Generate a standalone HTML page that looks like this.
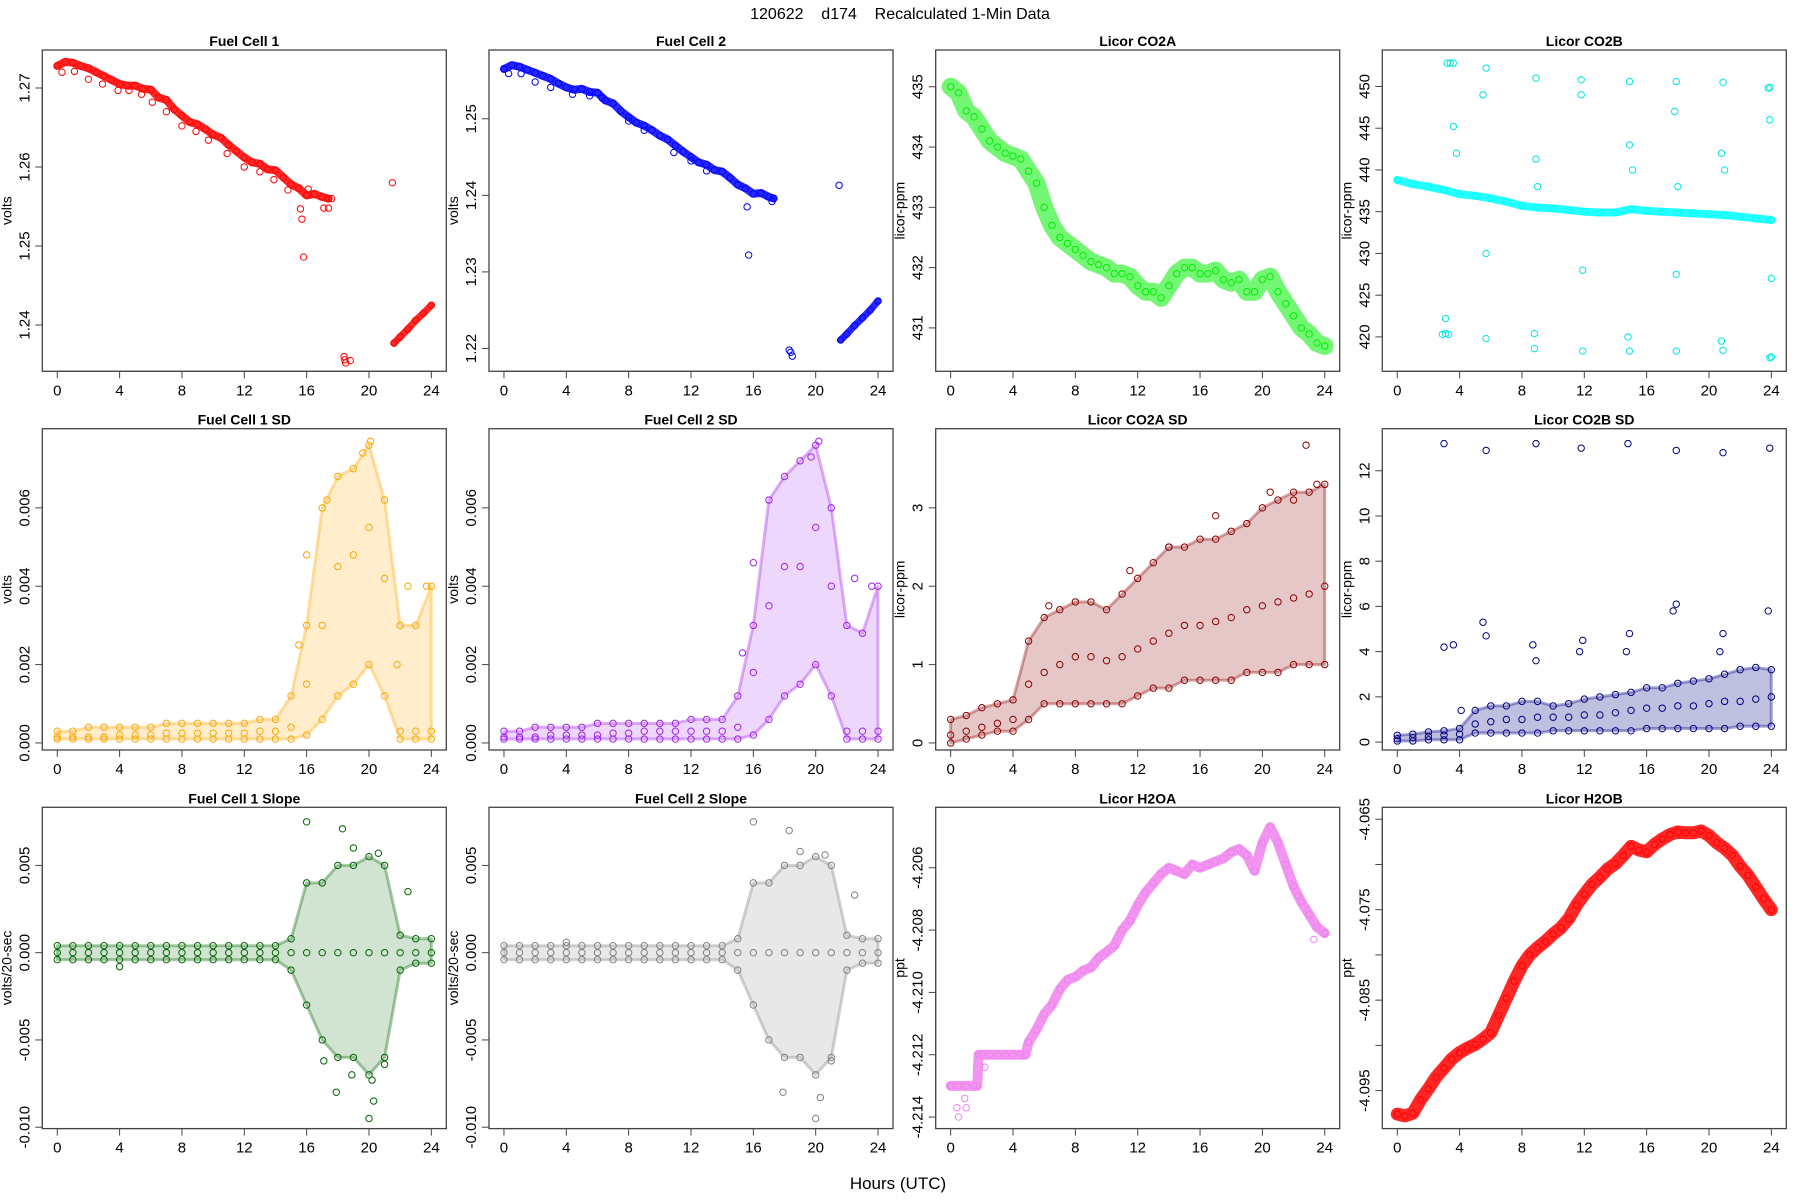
<!DOCTYPE html>
<html><head><meta charset="utf-8"><style>
html,body{margin:0;padding:0;background:#fff;}
svg{display:block;font-family:"Liberation Sans",Arial,sans-serif;}
</style></head><body>
<svg id="chart" width="1800" height="1200" viewBox="0 0 1800 1200" xmlns="http://www.w3.org/2000/svg">
<text x="900" y="19" text-anchor="middle" font-size="16" xml:space="preserve" style="white-space:pre">120622    d174    Recalculated 1-Min Data</text>
<text x="898" y="1189" text-anchor="middle" font-size="17">Hours (UTC)</text>
</svg>
<script>
// ---------- data ----------
const hrs25 = [0,1,2,3,4,5,6,7,8,9,10,11,12,13,14,15,16,17,18,19,20,21,22,23,24];
const xTicks = [0,4,8,12,16,20,24];

const fc1T = [0,0.5,1,1.5,2,2.5,3,3.5,4,4.5,5,5.5,6,6.5,7,7.5,8,8.5,9,9.5,10,10.5,11,11.5,12,12.5,13,13.5,14,14.5,15,15.5,16,16.5,17,17.4];
const fc1V = [1.2728,1.2733,1.2732,1.2728,1.2725,1.2720,1.2715,1.2710,1.2705,1.2703,1.2703,1.2699,1.2698,1.2688,1.2685,1.2673,1.2665,1.2657,1.2654,1.2648,1.2641,1.2637,1.2628,1.2620,1.2612,1.2606,1.2604,1.2597,1.2596,1.2587,1.2578,1.2573,1.2564,1.2566,1.2562,1.2560];
const fc1T2 = [21.6,22,22.5,23,23.5,24];
const fc1V2 = [1.2377,1.2385,1.2395,1.2406,1.2415,1.2425];
const fc1OutX = [0.3,1.1,2,2.9,3.9,4.6,5.4,6.1,7,8,8.9,9.7,10.9,12,13,13.9,14.8,15.6,15.7,15.8,17.1,17.4,18.4,18.45,18.5,18.8,21.5,17.6,16.1];
const fc1OutY = [1.2720,1.2721,1.2711,1.2705,1.2697,1.2697,1.2692,1.2682,1.2670,1.2652,1.2645,1.2634,1.2617,1.2600,1.2594,1.2584,1.2571,1.2547,1.2534,1.2486,1.2548,1.2548,1.2360,1.2356,1.2352,1.2355,1.2580,1.2560,1.2572];

const fc2T = [0,0.5,1,1.5,2,2.5,3,3.5,4,4.5,5,5.5,6,6.5,7,7.5,8,8.5,9,9.5,10,10.5,11,11.5,12,12.5,13,13.5,14,14.5,15,15.5,16,16.5,17,17.3];
const fc2V = [1.2565,1.2570,1.2568,1.2564,1.2560,1.2556,1.2552,1.2546,1.2541,1.2538,1.2539,1.2535,1.2534,1.2524,1.2520,1.2510,1.2502,1.2495,1.2491,1.2485,1.2478,1.2473,1.2465,1.2457,1.2450,1.2443,1.2440,1.2433,1.2431,1.2423,1.2414,1.2409,1.2402,1.2403,1.2398,1.2396];
const fc2T2 = [21.6,22,22.5,23,23.5,24];
const fc2V2 = [1.2211,1.2219,1.2230,1.2240,1.2250,1.2262];
const fc2OutX = [0.3,1.1,2,3,4.4,5.5,6.3,8,9,10.9,12,13,15.6,15.7,17.2,18.3,18.4,18.5,21.5];
const fc2OutY = [1.2559,1.2559,1.2548,1.2541,1.2532,1.2530,1.2527,1.2497,1.2485,1.2456,1.2445,1.2432,1.2385,1.2322,1.2392,1.2198,1.2195,1.2190,1.2413];

const co2aT = [0,0.5,1,1.5,2,2.5,3,3.5,4,4.5,5,5.5,6,6.5,7,7.5,8,8.5,9,9.5,10,10.5,11,11.5,12,12.5,13,13.5,14,14.5,15,15.5,16,16.5,17,17.5,18,18.5,19,19.5,20,20.5,21,21.5,22,22.5,23,23.5,24];
const co2aV = [435.0,434.9,434.6,434.5,434.3,434.1,434.0,433.9,433.85,433.8,433.6,433.4,433.0,432.7,432.5,432.4,432.3,432.2,432.1,432.05,432.0,431.9,431.9,431.85,431.7,431.6,431.6,431.5,431.7,431.9,432.0,432.0,431.9,431.9,431.95,431.8,431.75,431.8,431.6,431.6,431.8,431.85,431.6,431.4,431.2,431.0,430.9,430.75,430.7];

const co2bT = [0,1,2,3,4,5,6,7,8,9,10,11,12,13,14,15,16,17,18,19,20,21,22,23,24];
const co2bV = [438.8,438.3,438.0,437.6,437.1,436.9,436.6,436.2,435.7,435.5,435.4,435.2,435.0,434.9,434.9,435.3,435.1,435.0,434.9,434.8,434.7,434.6,434.4,434.2,434.0];
const co2bOutX = [3.2,3.4,3.6,5.7,8.9,11.8,14.9,17.9,20.9,23.8,23.9, 2.9,3.1,3.3,5.7,8.8,11.9,14.9,17.9,20.9,23.9,24.0, 3.1,3.6,3.8,5.5,5.7,8.9,9.0,8.8,11.8,11.9,14.9,15.1,14.8,17.8,18.0,17.9,20.8,21.0,20.8,23.9,24.0];
const co2bOutY = [452.8,452.8,452.8,452.2,451.0,450.8,450.6,450.6,450.5,449.8,449.9, 420.3,420.4,420.3,419.8,418.6,418.3,418.3,418.3,418.4,417.5,417.6, 422.2,445.2,442.0,449.0,430.0,441.3,438.0,420.4,449.0,428.0,443.0,440.0,420.0,447.0,438.0,427.5,442.0,440.0,419.5,446.0,427.0];

const fc1sdLo  = [0.0001,0.0001,0.0001,0.0001,0.0001,0.0001,0.0001,0.0001,0.0001,0.0001,0.0001,0.0001,0.0001,0.0001,0.0001,0.0001,0.0002,0.0006,0.0012,0.0015,0.0020,0.0012,0.0001,0.0001,0.0001];
const fc1sdMid = [0.00015,0.00015,0.00015,0.00015,0.0002,0.0002,0.0002,0.00025,0.00025,0.00025,0.00025,0.00025,0.00025,0.0003,0.0003,0.0004,0.0015,0.0030,0.0045,0.0048,0.0055,0.0042,0.0003,0.0003,0.0003];
const fc1sdHi  = [0.0003,0.0003,0.0004,0.0004,0.0004,0.0004,0.0004,0.0005,0.0005,0.0005,0.0005,0.0005,0.0005,0.0006,0.0006,0.0012,0.0030,0.0060,0.0068,0.0070,0.0076,0.0062,0.0030,0.0030,0.0040];
const fc1sdOutX = [16,15.5,22.5,21.8,23.7,20.1,19.6,17.3];
const fc1sdOutY = [0.0048,0.0025,0.0040,0.0020,0.0040,0.0077,0.0074,0.0062];

const fc2sdLo  = [0.0001,0.0001,0.0001,0.0001,0.0001,0.0001,0.0001,0.0001,0.0001,0.0001,0.0001,0.0001,0.0001,0.0001,0.0001,0.0001,0.0002,0.0006,0.0012,0.0015,0.0020,0.0012,0.0001,0.0001,0.0001];
const fc2sdMid = [0.00015,0.00015,0.00015,0.0002,0.0002,0.0002,0.0002,0.00025,0.00025,0.0003,0.0003,0.0003,0.0003,0.0003,0.0003,0.0004,0.0018,0.0035,0.0045,0.0045,0.0055,0.0040,0.0003,0.0003,0.0003];
const fc2sdHi  = [0.0003,0.0003,0.0004,0.0004,0.0004,0.0004,0.0005,0.0005,0.0005,0.0005,0.0005,0.0005,0.0006,0.0006,0.0006,0.0012,0.0030,0.0062,0.0068,0.0072,0.0076,0.0060,0.0030,0.0028,0.0040];
const fc2sdOutX = [16,15.3,22.5,23.6,20.2,19.7];
const fc2sdOutY = [0.0046,0.0023,0.0042,0.0040,0.0077,0.0073];

const co2asdLo  = [0,0.05,0.1,0.15,0.15,0.3,0.5,0.5,0.5,0.5,0.5,0.5,0.6,0.7,0.7,0.8,0.8,0.8,0.8,0.9,0.9,0.9,1.0,1.0,1.0];
const co2asdMid = [0.1,0.15,0.2,0.25,0.3,0.75,0.9,1.0,1.1,1.1,1.05,1.1,1.2,1.3,1.4,1.5,1.5,1.55,1.6,1.7,1.75,1.8,1.85,1.9,2.0];
const co2asdHi  = [0.3,0.35,0.45,0.5,0.55,1.3,1.6,1.7,1.8,1.8,1.7,1.9,2.1,2.3,2.5,2.5,2.6,2.6,2.7,2.8,3.0,3.1,3.2,3.2,3.3];
const co2asdOutX = [22.8,20.5,22,11.5,17,23.5,14,6.3];
const co2asdOutY = [3.8,3.2,3.1,2.2,2.9,3.3,2.5,1.75];

const co2bsdLo  = [0.05,0.05,0.1,0.1,0.1,0.4,0.4,0.4,0.4,0.4,0.5,0.5,0.5,0.5,0.5,0.5,0.6,0.6,0.6,0.6,0.6,0.6,0.7,0.7,0.7];
const co2bsdMid = [0.15,0.2,0.25,0.3,0.35,0.8,0.9,1.0,1.0,1.1,1.1,1.1,1.2,1.2,1.3,1.4,1.5,1.5,1.6,1.6,1.7,1.8,1.8,1.9,2.0];
const co2bsdHi  = [0.3,0.35,0.45,0.5,0.6,1.4,1.6,1.6,1.8,1.8,1.6,1.7,1.9,2.0,2.1,2.2,2.4,2.4,2.6,2.7,2.8,3.0,3.2,3.3,3.2];
const co2bsdOutX = [3,5.7,8.9,11.8,14.8,17.9,20.9,23.9, 3,3.6,5.5,5.7,8.7,8.9,11.7,11.9,14.7,14.9,17.7,17.9,20.7,20.9,23.8,4.1];
const co2bsdOutY = [13.2,12.9,13.2,13.0,13.2,12.9,12.8,13.0, 4.2,4.3,5.3,4.7,4.3,3.6,4.0,4.5,4.0,4.8,5.8,6.1,4.0,4.8,5.8,1.4];

const sl1Lo  = [-0.0004,-0.0004,-0.0004,-0.0004,-0.0004,-0.0004,-0.0004,-0.0004,-0.0004,-0.0004,-0.0004,-0.0004,-0.0004,-0.0004,-0.0004,-0.0010,-0.0030,-0.0050,-0.0060,-0.0060,-0.0070,-0.0060,-0.0010,-0.0006,-0.0006];
const sl1Mid = [0,0,0,0,0,0,0,0,0,0,0,0,0,0,0,0,0,0,0,0,0,0,0,0,0];
const sl1Hi  = [0.0004,0.0004,0.0004,0.0004,0.0004,0.0004,0.0004,0.0004,0.0004,0.0004,0.0004,0.0004,0.0004,0.0004,0.0004,0.0008,0.0040,0.0040,0.0050,0.0050,0.0055,0.0050,0.0010,0.0008,0.0008];
const sl1OutX = [16,18.3,20,17.9,20.2,20.3,21,19,4,22.5,20.6,18.9,17.1];
const sl1OutY = [0.0075,0.0071,-0.0095,-0.0080,-0.0073,-0.0085,-0.0064,0.0060,-0.0008,0.0035,0.0057,-0.0070,-0.0062];

const sl2Lo  = [-0.0004,-0.0004,-0.0004,-0.0004,-0.0004,-0.0004,-0.0004,-0.0004,-0.0004,-0.0004,-0.0004,-0.0004,-0.0004,-0.0004,-0.0004,-0.0010,-0.0030,-0.0050,-0.0060,-0.0060,-0.0070,-0.0060,-0.0010,-0.0006,-0.0006];
const sl2Mid = [0,0,0,0,0,0,0,0,0,0,0,0,0,0,0,0,0,0,0,0,0,0,0,0,0];
const sl2Hi  = [0.0004,0.0004,0.0004,0.0004,0.0004,0.0004,0.0004,0.0004,0.0004,0.0004,0.0004,0.0004,0.0004,0.0004,0.0004,0.0008,0.0040,0.0040,0.0050,0.0050,0.0055,0.0050,0.0010,0.0008,0.0008];
const sl2OutX = [16,18.3,20,17.9,20.3,19,4,20.6,22.5,21];
const sl2OutY = [0.0075,0.0070,-0.0095,-0.0080,-0.0083,0.0058,0.0006,0.0056,0.0033,-0.0062];

const h2oaT = [0,0.5,1,1.5,1.7,1.8,2,2.5,3,3.5,4,4.5,4.8,5,5.5,6,6.5,7,7.5,8,8.5,9,9.5,10,10.5,11,11.5,12,12.5,13,13.5,14,14.5,15,15.5,16,16.5,17,17.5,18,18.5,19,19.5,20,20.5,21,21.5,22,22.5,23,23.5,24];
const h2oaV = [-4.2130,-4.2130,-4.2130,-4.2130,-4.2130,-4.2120,-4.2120,-4.2120,-4.2120,-4.2120,-4.2120,-4.2120,-4.2120,-4.2116,-4.2112,-4.2107,-4.2104,-4.2099,-4.2096,-4.2095,-4.2093,-4.2092,-4.2089,-4.2087,-4.2085,-4.2080,-4.2077,-4.2072,-4.2068,-4.2065,-4.2062,-4.2060,-4.2061,-4.2062,-4.2059,-4.2060,-4.2059,-4.2058,-4.2057,-4.2055,-4.2054,-4.2056,-4.2061,-4.2052,-4.2047,-4.2052,-4.2059,-4.2066,-4.2071,-4.2075,-4.2079,-4.2081];
const h2oaOutX = [0.4,0.5,0.9,1.0,2.2,22.3,23.3];
const h2oaOutY = [-4.2137,-4.2140,-4.2134,-4.2137,-4.2124,-4.2069,-4.2083];

const h2obT = [0,0.5,1,1.5,2,2.5,3,3.5,4,4.5,5,5.5,6,6.5,7,7.5,8,8.5,9,9.5,10,10.5,11,11.5,12,12.5,13,13.5,14,14.5,15,15.5,16,16.5,17,17.5,18,18.5,19,19.5,20,20.5,21,21.5,22,22.5,23,23.5,24];
const h2obV = [-4.0976,-4.0978,-4.0975,-4.0960,-4.0948,-4.0935,-4.0925,-4.0915,-4.0908,-4.0903,-4.0899,-4.0893,-4.0886,-4.0867,-4.0848,-4.0829,-4.0812,-4.0800,-4.0792,-4.0785,-4.0777,-4.0770,-4.0760,-4.0745,-4.0733,-4.0722,-4.0714,-4.0705,-4.0699,-4.0690,-4.0680,-4.0684,-4.0686,-4.0678,-4.0672,-4.0667,-4.0664,-4.0665,-4.0665,-4.0663,-4.0668,-4.0676,-4.0682,-4.0690,-4.0702,-4.0712,-4.0725,-4.0738,-4.0750];

// tick values / labels
const yt1 = [1.24,1.25,1.26,1.27], yl1 = ["1.24","1.25","1.26","1.27"];
const yt2 = [1.22,1.23,1.24,1.25], yl2 = ["1.22","1.23","1.24","1.25"];
const yt3 = [431,432,433,434,435], yl3 = ["431","432","433","434","435"];
const yt4 = [420,425,430,435,440,445,450], yl4 = ["420","425","430","435","440","445","450"];
const yt5 = [0,0.002,0.004,0.006], yl5 = ["0.000","0.002","0.004","0.006"];
const yt7 = [0,1,2,3], yl7 = ["0","1","2","3"];
const yt8 = [0,2,4,6,8,10,12], yl8 = ["0","2","4","6","8","10","12"];
const yt9 = [-0.010,-0.005,0,0.005], yl9 = ["-0.010","-0.005","0.000","0.005"];
const yt11 = [-4.214,-4.212,-4.210,-4.208,-4.206], yl11 = ["-4.214","-4.212","-4.210","-4.208","-4.206"];
const yt12 = [-4.095,-4.090,-4.085,-4.080,-4.075,-4.070,-4.065], yl12 = ["-4.095","","-4.085","","-4.075","","-4.065"];

// ---------- drawing ----------
const NS = "http://www.w3.org/2000/svg";
const svg = document.getElementById("chart");
const colL = [42.3, 489, 935.7, 1382.3], PW = 404;
const rowT = [50, 428.7, 807.3], PH = 321.3;
const XMIN = -0.96, XMAX = 24.96;

function mk(tag, attrs, parent){
  const e = document.createElementNS(NS, tag);
  for (const k in attrs) e.setAttribute(k, attrs[k]);
  (parent||svg).appendChild(e);
  return e;
}

function panel(col,row,title,ylab,ylim,yt,yl,slug){
  const L=colL[col], T=rowT[row];
  const g = mk("g",{});
  
  
  const sx = v => L + (v-XMIN)/(XMAX-XMIN)*PW;
  const sy = v => T + PH - (v-ylim[0])/(ylim[1]-ylim[0])*PH;
  const clip = mk("clipPath",{id:"clip-"+slug},g);
  mk("rect",{x:L,y:T,width:PW,height:PH},clip);
  const plot = mk("g",{"clip-path":"url(#clip-"+slug+")"},g);
  
  
  const fr = mk("rect",{x:L,y:T,width:PW,height:PH,fill:"none",stroke:"#444","stroke-width":1.3},g);
  
  
  const tt = mk("text",{x:L+PW/2,y:T-4,"text-anchor":"middle","font-size":14,"font-weight":"bold"},g);
  tt.textContent = title;
  
  
  const yx = L-31, ym = T+PH/2;
  const ylt = mk("text",{x:yx,y:ym,"text-anchor":"middle","font-size":14,transform:"rotate(-90 "+yx+" "+ym+")"},g);
  ylt.textContent = ylab;
  
  
  const xa = mk("g",{},g);
  
  
  const B = T+PH;
  mk("line",{x1:sx(xTicks[0]),x2:sx(xTicks[xTicks.length-1]),y1:B,y2:B,stroke:"#444","stroke-width":1},xa);
  xTicks.forEach(v=>{
    mk("line",{x1:sx(v),x2:sx(v),y1:B,y2:B+7,stroke:"#444","stroke-width":1},xa);
    const t = mk("text",{x:sx(v),y:B+24,"text-anchor":"middle","font-size":15},xa);
    t.textContent = String(v);
    
    
  });
  const ya = mk("g",{},g);
  
  
  mk("line",{x1:L,x2:L,y1:sy(yt[0]),y2:sy(yt[yt.length-1]),stroke:"#444","stroke-width":1},ya);
  yt.forEach((v,i)=>{
    mk("line",{x1:L-7,x2:L,y1:sy(v),y2:sy(v),stroke:"#444","stroke-width":1},ya);
    if (yl[i]){
      const tx=L-13, ty=sy(v);
      const t = mk("text",{x:tx,y:ty,"text-anchor":"middle","font-size":15,transform:"rotate(-90 "+tx+" "+ty+")"},ya);
      t.textContent = yl[i];
      
      
    }
  });
  return {sx,sy,plot};
}

function circles(P,xs,ys,color,r){
  xs.forEach((x,i)=>{
    const c = mk("circle",{cx:P.sx(x),cy:P.sy(ys[i]),r:r||3.2,fill:"none",stroke:color,"stroke-width":1},P.plot);
    
    
  });
}
function band(P,xs,ys,color,w,op){
  const pts = xs.map((x,i)=>P.sx(x).toFixed(1)+","+P.sy(ys[i]).toFixed(1)).join(" ");
  const pl = mk("polyline",{points:pts,fill:"none",stroke:color,"stroke-width":w,"stroke-linejoin":"round","stroke-linecap":"round","stroke-opacity":op||0.85},P.plot);
  
  
  circles(P,xs,ys,color);
}
function spread(P,xs,lo,mid,hi,color,op){
  let d = xs.map((x,i)=>P.sx(x).toFixed(1)+","+P.sy(hi[i]).toFixed(1));
  for (let i=xs.length-1;i>=0;i--) d.push(P.sx(xs[i]).toFixed(1)+","+P.sy(lo[i]).toFixed(1));
  const pg = mk("polygon",{points:d.join(" "),fill:color,"fill-opacity":op,stroke:color,"stroke-opacity":0.35,"stroke-width":3,"stroke-linejoin":"round"},P.plot);
  
  
  circles(P,xs,lo,color); circles(P,xs,mid,color); circles(P,xs,hi,color);
}

let P;
P = panel(0,0,"Fuel Cell 1","volts",[1.23414,1.27481],yt1,yl1,"fuel-cell-1");
band(P,fc1T,fc1V,"#ff0000",8); band(P,fc1T2,fc1V2,"#ff0000",7); circles(P,fc1OutX,fc1OutY,"#ff0000");
P = panel(1,0,"Fuel Cell 2","volts",[1.21702,1.25898],yt2,yl2,"fuel-cell-2");
band(P,fc2T,fc2V,"#0000ff",8); band(P,fc2T2,fc2V2,"#0000ff",7); circles(P,fc2OutX,fc2OutY,"#0000ff");
P = panel(2,0,"Licor CO2A","licor-ppm",[430.28,435.61],yt3,yl3,"licor-co2a");
band(P,co2aT,co2aV,"#00ee00",18,0.55);
P = panel(3,0,"Licor CO2B","licor-ppm",[415.88,454.37],yt4,yl4,"licor-co2b");
band(P,co2bT,co2bV,"#00ffff",8); circles(P,co2bOutX,co2bOutY,"#00e5e5");

P = panel(0,1,"Fuel Cell 1 SD","volts",[-0.00018,0.00802],yt5,yl5,"fuel-cell-1-sd");
spread(P,hrs25,fc1sdLo,fc1sdMid,fc1sdHi,"#ffa500",0.2); circles(P,fc1sdOutX,fc1sdOutY,"#ffa500");
P = panel(1,1,"Fuel Cell 2 SD","volts",[-0.00018,0.00802],yt5,yl5,"fuel-cell-2-sd");
spread(P,hrs25,fc2sdLo,fc2sdMid,fc2sdHi,"#a020f0",0.18); circles(P,fc2sdOutX,fc2sdOutY,"#a020f0");
P = panel(2,1,"Licor CO2A SD","licor-ppm",[-0.09,4.01],yt7,yl7,"licor-co2a-sd");
spread(P,hrs25,co2asdLo,co2asdMid,co2asdHi,"#8b0000",0.22); circles(P,co2asdOutX,co2asdOutY,"#8b0000");
P = panel(3,1,"Licor CO2B SD","licor-ppm",[-0.35,13.86],yt8,yl8,"licor-co2b-sd");
spread(P,hrs25,co2bsdLo,co2bsdMid,co2bsdHi,"#000080",0.25); circles(P,co2bsdOutX,co2bsdOutY,"#000080");

P = panel(0,2,"Fuel Cell 1 Slope","volts/20-sec",[-0.01008,0.00833],yt9,yl9,"fuel-cell-1-slope");
spread(P,hrs25,sl1Lo,sl1Mid,sl1Hi,"#006400",0.18); circles(P,sl1OutX,sl1OutY,"#006400");
P = panel(1,2,"Fuel Cell 2 Slope","volts/20-sec",[-0.01008,0.00833],yt9,yl9,"fuel-cell-2-slope");
spread(P,hrs25,sl2Lo,sl2Mid,sl2Hi,"#808080",0.18); circles(P,sl2OutX,sl2OutY,"#808080");
P = panel(2,2,"Licor H2OA","ppt",[-4.21437,-4.20406],yt11,yl11,"licor-h2oa");
band(P,h2oaT,h2oaV,"#ee82ee",10); circles(P,h2oaOutX,h2oaOutY,"#ee82ee");
P = panel(3,2,"Licor H2OB","ppt",[-4.0992,-4.06368],yt12,yl12,"licor-h2ob");
band(P,h2obT,h2obV,"#ff0000",13);
</script>
</body></html>
